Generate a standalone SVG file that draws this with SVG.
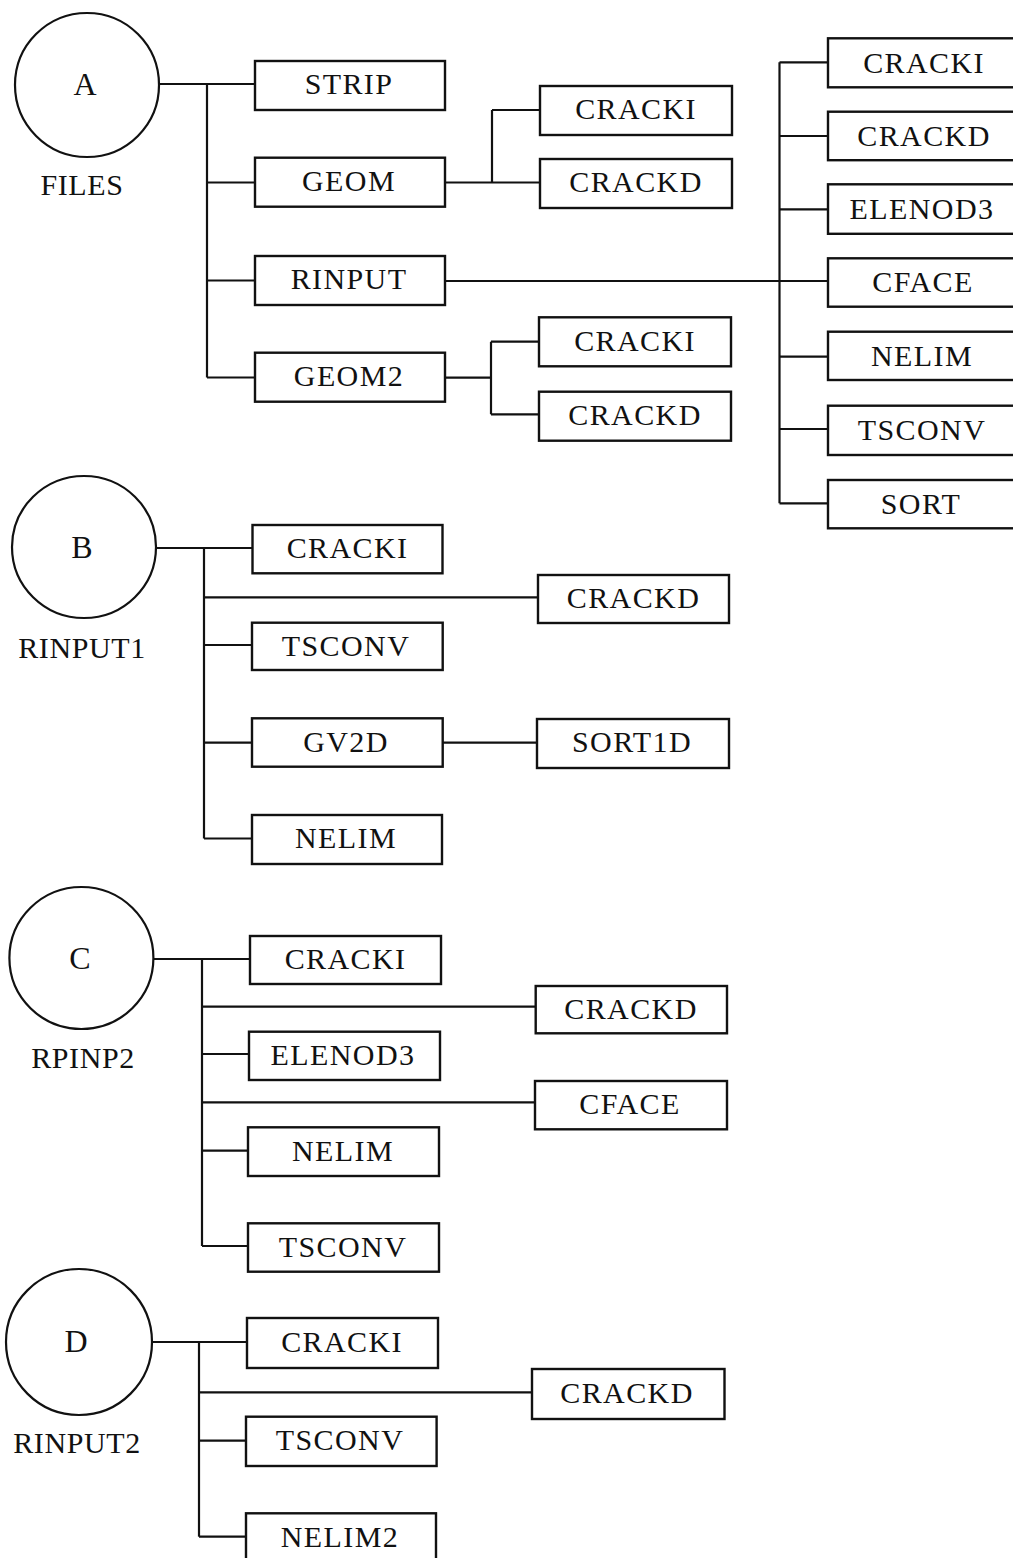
<svg xmlns="http://www.w3.org/2000/svg" width="1013" height="1558" viewBox="0 0 1013 1558">
<style>
rect{fill:#fff;stroke:#111;stroke-width:2.4}
ellipse{fill:#fff;stroke:#111;stroke-width:2.2}
.c line{stroke:#111;stroke-width:2.2;fill:none}
text{font-family:"Liberation Serif","Times New Roman",serif;font-size:30px;fill:#111;text-anchor:middle;letter-spacing:1.4px}
.lbl{letter-spacing:0.6px}
.big{font-size:32px;letter-spacing:0}
</style>
<rect x="0" y="0" width="1013" height="1558" style="fill:#fff;stroke:none"/>
<g class="c" id="connectors">
<!-- A -->
<line x1="159" y1="84" x2="255" y2="84"/>
<line x1="207" y1="84" x2="207" y2="377.5"/>
<line x1="207" y1="182.5" x2="255" y2="182.5"/>
<line x1="207" y1="280.5" x2="255" y2="280.5"/>
<line x1="207" y1="377.5" x2="255" y2="377.5"/>
<line x1="445" y1="182.5" x2="540" y2="182.5"/>
<line x1="492" y1="110" x2="492" y2="182.5"/>
<line x1="492" y1="110" x2="540" y2="110"/>
<line x1="445" y1="281" x2="828" y2="281"/>
<line x1="779.5" y1="62.3" x2="779.5" y2="503.3"/>
<line x1="779.5" y1="62.3" x2="828" y2="62.3"/>
<line x1="779.5" y1="136" x2="828" y2="136"/>
<line x1="779.5" y1="209.3" x2="828" y2="209.3"/>
<line x1="779.5" y1="356.7" x2="828" y2="356.7"/>
<line x1="779.5" y1="429" x2="828" y2="429"/>
<line x1="779.5" y1="503.3" x2="828" y2="503.3"/>
<line x1="445" y1="377.7" x2="491" y2="377.7"/>
<line x1="491" y1="341.7" x2="491" y2="414.3"/>
<line x1="491" y1="341.7" x2="539" y2="341.7"/>
<line x1="491" y1="414.3" x2="539" y2="414.3"/>
<!-- B -->
<line x1="156" y1="548" x2="252.5" y2="548"/>
<line x1="204" y1="548" x2="204" y2="838.5"/>
<line x1="204" y1="597.3" x2="538" y2="597.3"/>
<line x1="204" y1="645" x2="252" y2="645"/>
<line x1="204" y1="742.7" x2="252" y2="742.7"/>
<line x1="204" y1="838.5" x2="252" y2="838.5"/>
<line x1="442.7" y1="742.7" x2="537" y2="742.7"/>
<!-- C -->
<line x1="153" y1="959" x2="250" y2="959"/>
<line x1="202" y1="959" x2="202" y2="1246"/>
<line x1="202" y1="1006.7" x2="535.7" y2="1006.7"/>
<line x1="202" y1="1054" x2="249" y2="1054"/>
<line x1="202" y1="1102.3" x2="535" y2="1102.3"/>
<line x1="202" y1="1150.7" x2="248" y2="1150.7"/>
<line x1="202" y1="1246" x2="248" y2="1246"/>
<!-- D -->
<line x1="152" y1="1342" x2="247" y2="1342"/>
<line x1="199" y1="1342" x2="199" y2="1536.7"/>
<line x1="199" y1="1392.3" x2="532" y2="1392.3"/>
<line x1="199" y1="1440.7" x2="246" y2="1440.7"/>
<line x1="199" y1="1536.7" x2="246" y2="1536.7"/>
</g>

<!-- A nodes -->
<g id="A"><ellipse cx="87" cy="85" rx="72" ry="72"/><text x="85" y="95" class="big">A</text><text x="82" y="195" class="lbl">FILES</text></g>
<g id="A-strip"><rect x="255" y="61" width="190" height="49"/><text x="349" y="94">STRIP</text></g>
<g id="A-geom"><rect x="255" y="157.7" width="190" height="49"/><text x="349" y="191">GEOM</text></g>
<g id="A-rinput"><rect x="255" y="256" width="190" height="49"/><text x="349" y="289">RINPUT</text></g>
<g id="A-geom2"><rect x="255" y="352.7" width="190" height="49"/><text x="349" y="386">GEOM2</text></g>
<g id="A-geom-cracki"><rect x="540" y="86" width="192" height="49"/><text x="636" y="119">CRACKI</text></g>
<g id="A-geom-crackd"><rect x="540" y="159" width="192" height="49"/><text x="636" y="192">CRACKD</text></g>
<g id="A-geom2-cracki"><rect x="539" y="317.3" width="192" height="49"/><text x="635" y="350.5">CRACKI</text></g>
<g id="A-geom2-crackd"><rect x="539" y="391.7" width="192" height="49"/><text x="635" y="425">CRACKD</text></g>
<g id="A-r-cracki"><rect x="828" y="38.3" width="200" height="49"/><text x="924" y="73">CRACKI</text></g>
<g id="A-r-crackd"><rect x="828" y="111.7" width="200" height="48.5"/><text x="924" y="146">CRACKD</text></g>
<g id="A-r-elenod3"><rect x="828" y="184.3" width="200" height="49.5"/><text x="922" y="219">ELENOD3</text></g>
<g id="A-r-cface"><rect x="828" y="258.3" width="200" height="48.4"/><text x="923" y="292">CFACE</text></g>
<g id="A-r-nelim"><rect x="828" y="331.7" width="200" height="48.3"/><text x="922" y="366">NELIM</text></g>
<g id="A-r-tsconv"><rect x="828" y="405.7" width="200" height="49.3"/><text x="922" y="440">TSCONV</text></g>
<g id="A-r-sort"><rect x="828" y="480" width="200" height="48.3"/><text x="921" y="514">SORT</text></g>

<!-- B nodes -->
<g id="B"><ellipse cx="84" cy="547" rx="72" ry="71"/><text x="82" y="558" class="big">B</text><text x="82" y="658" class="lbl">RINPUT1</text></g>
<g id="B-cracki"><rect x="252.5" y="525" width="190" height="48.3"/><text x="347.5" y="558">CRACKI</text></g>
<g id="B-crackd"><rect x="538" y="575" width="191" height="48"/><text x="633.5" y="608">CRACKD</text></g>
<g id="B-tsconv"><rect x="252" y="622.7" width="190.7" height="47.3"/><text x="346" y="655.5">TSCONV</text></g>
<g id="B-gv2d"><rect x="252" y="718.3" width="190.7" height="48.4"/><text x="346" y="751.5">GV2D</text></g>
<g id="B-sort1d"><rect x="537" y="719" width="192" height="49"/><text x="632" y="752">SORT1D</text></g>
<g id="B-nelim"><rect x="252" y="815" width="190" height="49"/><text x="346" y="848">NELIM</text></g>

<!-- C nodes -->
<g id="C"><ellipse cx="81.4" cy="958" rx="72" ry="71"/><text x="80" y="969" class="big">C</text><text x="83" y="1068" class="lbl">RPINP2</text></g>
<g id="C-cracki"><rect x="250" y="936" width="191" height="48"/><text x="345.5" y="969">CRACKI</text></g>
<g id="C-crackd"><rect x="535.7" y="986" width="191.3" height="47.3"/><text x="631" y="1019">CRACKD</text></g>
<g id="C-elenod3"><rect x="249" y="1031.7" width="191" height="48.3"/><text x="343" y="1064.5">ELENOD3</text></g>
<g id="C-cface"><rect x="535" y="1081" width="192" height="48.3"/><text x="630" y="1114">CFACE</text></g>
<g id="C-nelim"><rect x="248" y="1127.3" width="191" height="48.7"/><text x="343" y="1160.5">NELIM</text></g>
<g id="C-tsconv"><rect x="248" y="1223.3" width="191" height="48.4"/><text x="343" y="1256.5">TSCONV</text></g>

<!-- D nodes -->
<g id="D"><ellipse cx="79" cy="1342" rx="73" ry="73"/><text x="76" y="1352" class="big">D</text><text x="77" y="1453" class="lbl">RINPUT2</text></g>
<g id="D-cracki"><rect x="247" y="1318" width="191" height="50"/><text x="342" y="1352">CRACKI</text></g>
<g id="D-crackd"><rect x="532" y="1369" width="192.5" height="50"/><text x="627" y="1402.5">CRACKD</text></g>
<g id="D-tsconv"><rect x="246" y="1416.7" width="190.6" height="49.3"/><text x="340" y="1450">TSCONV</text></g>
<g id="D-nelim2"><rect x="246" y="1513.3" width="190" height="50"/><text x="340" y="1547">NELIM2</text></g>
</svg>
